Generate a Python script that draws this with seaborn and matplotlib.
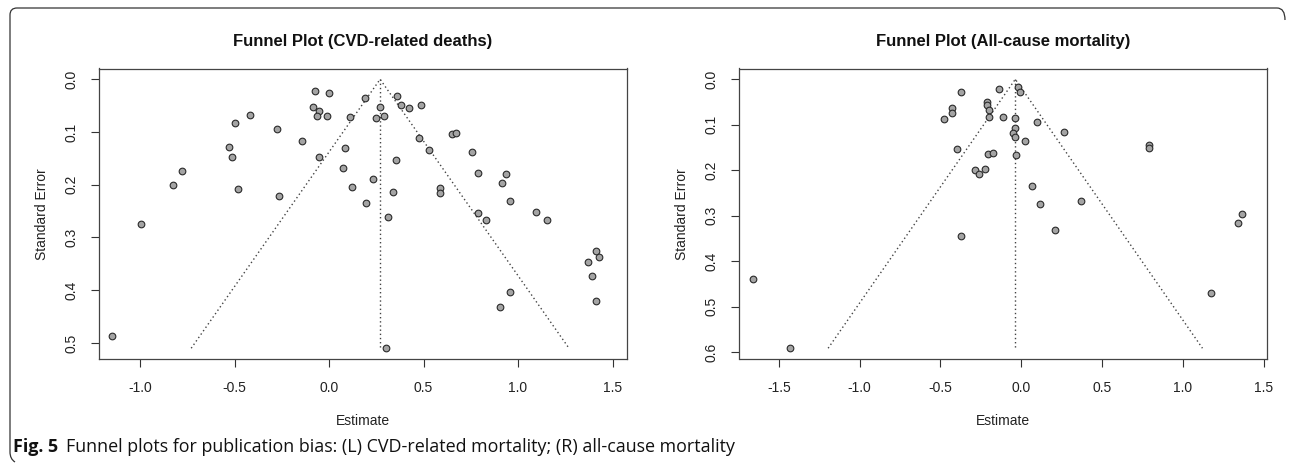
import matplotlib
matplotlib.use("Agg")
import numpy as np
import pandas as pd
import seaborn as sns
import matplotlib.pyplot as plt
from matplotlib.path import Path
from matplotlib.patches import PathPatch

# ---------------- data ----------------
cvd_estimate = [-0.074, -0.001, 0.19, 0.36, -0.083, -0.052, -0.063, -0.010, 0.113, 0.27,
                0.246, 0.293, -0.416, -0.496, -0.275, -0.141, -0.531, -0.513, -0.054, 0.085,
                0.352, -0.778, -0.824, -0.48, -0.264, 0.076, 0.122, 0.23, 0.336, 0.198,
                0.313, -0.997, 0.378, 0.424, 0.488, 0.474, 0.530, 0.650, 0.672, 0.754,
                0.788, 0.936, 0.917, 0.956, 0.588, 0.588, 0.788, 0.828, 1.097, 1.153,
                1.41, 1.43, 1.37, 1.39, 1.41, 0.956, 0.904, -1.15, 0.30]
cvd_se = [0.0225, 0.026, 0.036, 0.032, 0.052, 0.061, 0.070, 0.070, 0.072, 0.052,
          0.073, 0.069, 0.067, 0.082, 0.094, 0.117, 0.129, 0.147, 0.148, 0.131,
          0.154, 0.173, 0.200, 0.208, 0.221, 0.169, 0.204, 0.189, 0.213, 0.235,
          0.262, 0.274, 0.048, 0.055, 0.048, 0.112, 0.134, 0.103, 0.101, 0.137,
          0.178, 0.179, 0.197, 0.230, 0.206, 0.216, 0.254, 0.266, 0.252, 0.266,
          0.326, 0.337, 0.347, 0.373, 0.421, 0.403, 0.431, 0.486, 0.510]
cvd_center = 0.27

all_estimate = [-0.371, -0.138, -0.020, -0.008, -0.431, -0.431, -0.476, -0.210, -0.210, -0.198,
                -0.198, -0.113, -0.039, 0.097, 0.262, -0.039, -0.049, -0.039, 0.023, -0.400,
                -0.208, -0.175, -0.031, -0.288, -0.260, -0.223, 0.068, 0.116, 0.367, 0.207,
                -0.371, 0.790, 0.790, 1.364, 1.341, 1.172, -1.662, -1.431]
all_se = [0.029, 0.021, 0.018, 0.028, 0.064, 0.075, 0.088, 0.049, 0.056, 0.067,
          0.083, 0.083, 0.086, 0.093, 0.115, 0.107, 0.118, 0.126, 0.135, 0.154,
          0.164, 0.161, 0.166, 0.199, 0.208, 0.198, 0.234, 0.275, 0.267, 0.332,
          0.344, 0.145, 0.152, 0.295, 0.315, 0.469, 0.439, 0.591]
all_center = -0.037

titles = ["Funnel Plot (CVD-related deaths)", "Funnel Plot (All-cause mortality)"]
x_label = "Estimate"
y_label = "Standard Error"
cvd_xticks = [-1.0, -0.5, 0.0, 0.5, 1.0, 1.5]
cvd_yticks = [0.0, 0.1, 0.2, 0.3, 0.4, 0.5]
all_xticks = [-1.5, -1.0, -0.5, 0.0, 0.5, 1.0, 1.5]
all_yticks = [0.0, 0.1, 0.2, 0.3, 0.4, 0.5, 0.6]
caption_bold = "Fig. 5"
caption_text = "Funnel plots for publication bias: (L) CVD-related mortality; (R) all-cause mortality"

# ---------------- style ----------------
sns.set_theme(style="white")
plt.rcParams["font.family"] = ["Liberation Sans", "DejaVu Sans"]
plt.rcParams["axes.unicode_minus"] = False

W, H = 1292, 468
fig = plt.figure(figsize=(W / 100, H / 100), dpi=100)


def frac_box(x0, y0, x1, y1):
    return [x0 / W, 1 - y1 / H, (x1 - x0) / W, (y1 - y0) / H]


ax_left = fig.add_axes(frac_box(99.3, 68.5, 626.5, 359.0))
ax_right = fig.add_axes(frac_box(739.5, 68.5, 1266.7, 359.0))

panels = [
    (ax_left, cvd_estimate, cvd_se, cvd_center, cvd_xticks, cvd_yticks, (-1.216, 1.574), titles[0]),
    (ax_right, all_estimate, all_se, all_center, all_xticks, all_yticks, (-1.744, 1.519), titles[1]),
]

for ax, est, se, center, xt, yt, xlim, title in panels:
    df = pd.DataFrame({"estimate": est, "se": se})
    se_max = max(se)
    # funnel lines
    ax.plot([center - 1.96 * se_max, center, center + 1.96 * se_max], [se_max, 0, se_max],
            color="#444444", lw=1.0, linestyle=(0, (1, 2)), zorder=1)
    ax.plot([center, center], [0, se_max], color="#444444", lw=1.0,
            linestyle=(0, (1, 2)), zorder=1)
    sns.scatterplot(data=df, x="estimate", y="se", ax=ax, color="#a4a4a4",
                    edgecolor="#2a2a2a", linewidth=0.8, s=23, zorder=3, legend=False)
    pad = 0.04 * se_max
    ax.set_ylim(se_max + pad, -pad)
    ax.set_xlim(*xlim)
    ax.set_xticks(xt)
    ax.set_xticklabels([f"{v:.1f}" for v in xt])
    ax.set_yticks(yt)
    ax.set_yticklabels([f"{v:.1f}" for v in yt], rotation=90, va="center")
    ax.tick_params(axis="both", which="major", direction="out", length=6, width=0.8,
                   color="#333333", labelsize=10, labelcolor="#222222",
                   bottom=True, left=True, top=False, right=False)
    ax.tick_params(axis="x", pad=9.5)
    ax.tick_params(axis="y", pad=9)
    for sp in ax.spines.values():
        sp.set_visible(True)
        sp.set_color("#444444")
        sp.set_linewidth(0.9)
    ax.set_xlabel(x_label, fontsize=10, labelpad=14, color="#222222")
    ax.set_ylabel(y_label, fontsize=10, labelpad=11, color="#222222")
    ax.set_title(title, fontsize=12, fontweight="bold", pad=16, color="#111111")
    ax.grid(False)

# ---------------- caption ----------------
t1 = fig.text(13 / W, 1 - 447 / H, caption_bold, fontsize=12.9, fontweight="bold",
              va="center", ha="left", family=["Open Sans", "DejaVu Sans"], color="#111111")
fig.canvas.draw()
bb = t1.get_window_extent()
fig.text((bb.x1 + 8) / W, 1 - 447 / H, caption_text, fontsize=12.9,
         va="center", ha="left", family=["Open Sans", "DejaVu Sans"], color="#111111")

# ---------------- frame ----------------
pts = [(1285, 20), (1285, 8), (1277, 8), (17, 8), (10, 8), (10, 15),
       (10, 452), (10, 459), (15, 462)]
codes = [Path.MOVETO, Path.CURVE3, Path.CURVE3, Path.LINETO, Path.CURVE3, Path.CURVE3,
         Path.LINETO, Path.CURVE3, Path.CURVE3]
verts = [(x / W, 1 - y / H) for x, y in pts]
frame = PathPatch(Path(verts, codes), transform=fig.transFigure, fill=False,
                  edgecolor="#333333", linewidth=0.9)
fig.patches.append(frame)

fig.savefig("out.png", dpi=100)
